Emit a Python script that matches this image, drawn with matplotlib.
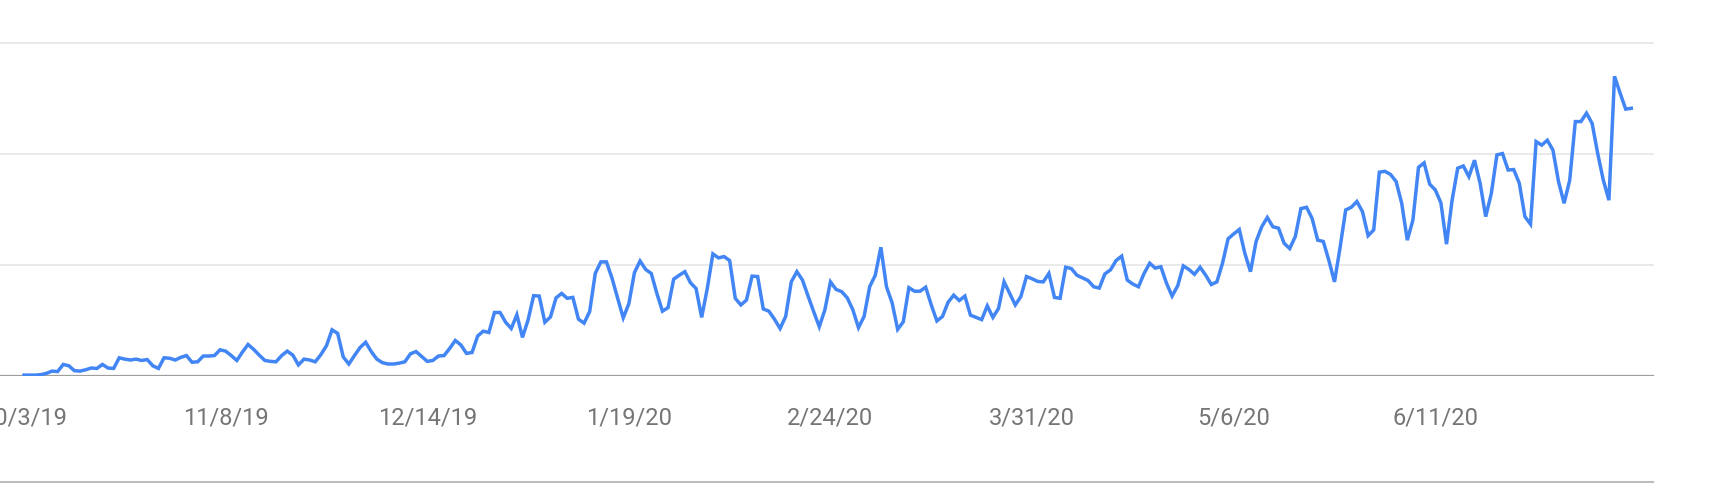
import numpy as np
import pandas as pd
import matplotlib
matplotlib.use('Agg')
import matplotlib.pyplot as plt
import matplotlib.dates as mdates

plt.rcParams['font.family'] = ['Roboto', 'DejaVu Sans']

# daily interest, starting 10/3/19 (scale: grid lines at 25 / 50 / 75)
start_date = '2019-10-03'
values = [
    0.2, 0.2, 0.2, 0.3, 0.6, 1.1, 1.0, 2.6, 2.3, 1.2, 1.1, 1.4, 1.8, 1.7, 2.6, 1.8, 1.7, 4.1,
    3.8, 3.6, 3.8, 3.5, 3.7, 2.3, 1.7, 4.1, 4.0, 3.6, 4.2, 4.6, 3.1, 3.2, 4.5, 4.5, 4.6, 5.9,
    5.6, 4.6, 3.5, 5.4, 7.1, 6.0, 4.7, 3.5, 3.3, 3.2, 4.6, 5.6, 4.7, 2.5, 3.8, 3.6, 3.2, 4.8,
    6.8, 10.4, 9.6, 4.3, 2.7, 4.6, 6.4, 7.6, 5.5, 3.8, 3.0, 2.7, 2.7, 2.9, 3.2, 5.0, 5.5, 4.4,
    3.3, 3.5, 4.5, 4.6, 6.2, 8.0, 7.0, 5.1, 5.3, 9.0, 10.1, 9.8, 14.3, 14.3, 12.1, 10.7, 13.8, 8.7,
    12.6, 18.1, 18.0, 12.1, 13.3, 17.6, 18.6, 17.5, 17.7, 12.8, 11.9, 14.5, 23.1, 25.7, 25.7, 22.0,
    17.5, 13.1, 16.3, 23.3, 25.9, 24.0, 23.1, 18.6, 14.6, 15.4, 21.8, 22.7, 23.5, 21.0, 19.7, 13.2,
    19.7, 27.5, 26.6, 26.9, 26.0, 17.5, 16.0, 17.1, 22.5, 22.4, 15.1, 14.6, 12.8, 10.7, 13.4, 21.2,
    23.5, 21.6, 18.0, 14.5, 11.1, 14.9, 21.2, 19.5, 19.0, 17.6, 14.9, 10.9, 13.4, 20.1, 22.7, 29.0,
    20.1, 16.5, 10.5, 12.2, 19.9, 19.1, 19.1, 20.0, 16.0, 12.4, 13.4, 16.6, 18.2, 17.0, 18.0, 13.7,
    13.2, 12.7, 15.8, 13.2, 15.2, 21.2, 18.6, 16.0, 17.9, 22.4, 21.9, 21.3, 21.2, 23.1, 17.7, 17.5,
    24.5, 24.2, 22.7, 22.1, 21.5, 20.1, 19.8, 23.0, 23.9, 26.0, 27.0, 21.6, 20.7, 20.1, 23.1, 25.4,
    24.3, 24.6, 20.9, 18.0, 20.3, 24.8, 24.0, 22.9, 24.5, 22.7, 20.6, 21.2, 25.4, 30.9, 32.0, 33.0,
    27.6, 23.5, 30.3, 33.6, 35.7, 33.6, 33.3, 29.9, 28.7, 31.4, 37.7, 38.0, 35.5, 30.6, 30.3, 26.0,
    21.2, 29.0, 37.4, 38.0, 39.3, 37.0, 31.6, 32.9, 45.9, 46.1, 45.4, 43.8, 38.9, 30.6, 35.1, 47.0,
    48.0, 43.2, 41.9, 39.0, 29.7, 39.6, 46.8, 47.3, 44.9, 48.6, 43.4, 35.9, 41.1, 49.8, 50.1, 46.4,
    46.5, 43.4, 35.9, 34.2, 52.8, 52.0, 53.1, 50.9, 43.8, 38.9, 44.1, 57.3, 57.3, 59.2, 56.9, 50.1,
    44.1, 39.6, 67.5, 63.7, 60.1, 60.3,
]
tick_dates = ['2019-10-03', '2019-11-08', '2019-12-14', '2020-01-19',
              '2020-02-24', '2020-03-31', '2020-05-06', '2020-06-11']
tick_labels = ['10/3/19', '11/8/19', '12/14/19', '1/19/20',
               '2/24/20', '3/31/20', '5/6/20', '6/11/20']
grid_levels = [25, 50, 75]

dates = pd.date_range(start_date, periods=len(values), freq='D')

fig = plt.figure(figsize=(17.2, 4.84), dpi=100)
ax = fig.add_axes([0, 108 / 484, 1661 / 1720, 376 / 484])

ax.plot(dates, values, color='#4285f4', lw=2.5, solid_joinstyle='miter', zorder=3)

# 网格线和底线
right = 0.995
for g in grid_levels:
    ax.axhline(g, xmax=right, color='#e8e8e8', lw=1.3, zorder=1)
ax.axhline(0, xmax=right, color='#9e9e9e', lw=1.6, zorder=2)

t0 = pd.Timestamp(start_date)
ax.set_xlim(t0 - pd.Timedelta(days=4.29), t0 + pd.Timedelta(days=292.3))
ax.set_ylim(0, 376 / 333 * 75)

ax.set_xticks([pd.Timestamp(d) for d in tick_dates])
ax.set_xticklabels(tick_labels)
ax.tick_params(axis='x', length=0, pad=22, labelsize=17, labelcolor='#757575')
ax.set_yticks([])
for s in ax.spines.values():
    s.set_visible(False)

# 最底下的分隔线
fig.add_artist(plt.Line2D([0, 1653 / 1720], [1.6 / 484, 1.6 / 484],
                          transform=fig.transFigure, color='#bdbdbd', lw=1.5))

fig.savefig('out.png', dpi=100)
